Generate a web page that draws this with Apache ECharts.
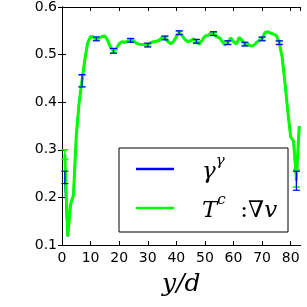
<!DOCTYPE html>
<html><head><meta charset="utf-8">
<script src="https://cdn.jsdelivr.net/npm/echarts@6/dist/echarts.min.js"></script>
<style>html,body{margin:0;padding:0;background:#fff}#c{width:307px;height:307px}</style>
</head><body><div id="c"></div>
<script>
const xs = [1,2,3,4,5,6,7,8,9,10,11,12,13,14,15,16,17,18,19,20,21,22,23,24,25,26,27,28,29,30,31,32,33,34,35,36,37,38,39,40,41,42,43,44,45,46,47,48,49,50,51,52,53,54,55,56,57,58,59,60,61,62,63,64,65,66,67,68,69,70,71,72,73,74,75,76,77,78,79,80,81,82,83];
const gammaVals = [0.242,0.118,0.185,0.205,0.33,0.40,0.445,0.49,0.525,0.538,0.537,0.533,0.535,0.538,0.539,0.530,0.515,0.508,0.512,0.523,0.527,0.526,0.528,0.530,0.529,0.524,0.522,0.521,0.522,0.520,0.525,0.527,0.528,0.530,0.536,0.535,0.528,0.523,0.527,0.538,0.546,0.540,0.532,0.527,0.529,0.533,0.528,0.522,0.530,0.539,0.540,0.545,0.544,0.538,0.536,0.528,0.520,0.525,0.535,0.527,0.522,0.536,0.530,0.522,0.522,0.518,0.519,0.525,0.530,0.533,0.546,0.548,0.545,0.543,0.540,0.525,0.495,0.44,0.38,0.327,0.318,0.235,0.35];
const tcVals = [0.29,0.118,0.185,0.205,0.33,0.40,0.445,0.49,0.525,0.538,0.537,0.533,0.535,0.538,0.539,0.530,0.515,0.508,0.512,0.523,0.527,0.526,0.528,0.530,0.529,0.524,0.522,0.521,0.522,0.520,0.525,0.527,0.528,0.530,0.536,0.535,0.528,0.523,0.527,0.538,0.546,0.540,0.532,0.527,0.529,0.533,0.528,0.522,0.530,0.539,0.540,0.545,0.544,0.538,0.536,0.528,0.520,0.525,0.535,0.527,0.522,0.536,0.530,0.522,0.522,0.518,0.519,0.525,0.530,0.533,0.546,0.548,0.545,0.543,0.540,0.525,0.495,0.44,0.38,0.327,0.318,0.24,0.35];
const errX = [1,7,12,18,24,30,36,41,47,53,58,64,70,76,82];
const gammaErr = [0.013,0.013,0.004,0.005,0.004,0.004,0.004,0.004,0.004,0.004,0.004,0.004,0.004,0.004,0.02];
const tcErr = [0.01,0.012,0.003,0.004,0.003,0.003,0.003,0.003,0.003,0.003,0.003,0.003,0.003,0.003,0.018];
const xTicks = [0,10,20,30,40,50,60,70,80];
const yTicks = [0.1,0.2,0.3,0.4,0.5,0.6];

const lineData = (vals) => xs.map((x,i)=>[x, vals[i]]);
const errData = (vals, errs) => errX.map((x,i)=>{ const v = vals[xs.indexOf(x)]; return [x, v-errs[i], v+errs[i]]; });
function errRender(color, w){
  return function(params, api){
    const lo = api.coord([api.value(0), api.value(1)]);
    const hi = api.coord([api.value(0), api.value(2)]);
    const c = 3.5;
    const st = {stroke: color, lineWidth: w};
    return {type:'group', children:[
      {type:'line', shape:{x1:lo[0],y1:lo[1],x2:hi[0],y2:hi[1]}, style:st},
      {type:'line', shape:{x1:lo[0]-c,y1:lo[1],x2:lo[0]+c,y2:lo[1]}, style:st},
      {type:'line', shape:{x1:hi[0]-c,y1:hi[1],x2:hi[0]+c,y2:hi[1]}, style:st}
    ]};
  };
}
const tickFont = {fontFamily:'DejaVu Sans', fontSize:14, color:'#000'};
const chart = echarts.init(document.getElementById('c'), null, {renderer:'canvas'});
const axisCommon = {
  axisLine:{show:true, lineStyle:{color:'#000', width:1}},
  axisTick:{show:true, inside:true, length:4, lineStyle:{color:'#000'}},
  splitLine:{show:false}
};
chart.setOption({
  animation:false,
  grid:{left:62, top:6, right:6.3, bottom:62, containLabel:false},
  xAxis:[
    Object.assign({type:'value', min:0, max:83.5, interval:10, position:'bottom',
      axisLabel:Object.assign({margin:6, showMaxLabel:false, formatter:(v)=> xTicks.includes(v)? String(v):''}, tickFont),
      name:'y/d', nameLocation:'middle', nameGap:27,
      nameTextStyle:{fontFamily:'DejaVu Serif', fontStyle:'italic', fontSize:25, color:'#000'}}, axisCommon),
    Object.assign({type:'value', min:0, max:83.5, interval:10, position:'top', axisLabel:{show:false}}, axisCommon)
  ],
  yAxis:[
    Object.assign({type:'value', min:0.1, max:0.6, interval:0.1, position:'left',
      axisLabel:Object.assign({margin:5, formatter:(v)=> v.toFixed(1)}, tickFont)}, axisCommon),
    Object.assign({type:'value', min:0.1, max:0.6, interval:0.1, position:'right', axisLabel:{show:false}}, axisCommon)
  ],
  legend:{
    orient:'vertical', left:119, top:148,
    backgroundColor:'#fff', borderColor:'#000', borderWidth:1,
    padding:[6,10,9,17],
    itemWidth:38, itemHeight:2.5, itemGap:9, icon:'rect',
    data:['gamma','tc'],
    formatter:function(name){
      if(name==='gamma') return '{s|}{i|γ}{sup|γ}';
      return '{s|}{i|T}{sup|c}{r|  :∇}{i|v}';
    },
    textStyle:{
      width:99, height:30, lineHeight:30,
      rich:{
        s:{width:23, height:30},
        i:{fontFamily:'DejaVu Serif', fontStyle:'italic', fontSize:23, lineHeight:30, color:'#000', verticalAlign:'bottom'},
        r:{fontFamily:'DejaVu Serif', fontSize:23, lineHeight:30, color:'#000', verticalAlign:'bottom'},
        sup:{fontFamily:'DejaVu Serif', fontStyle:'italic', fontSize:15, lineHeight:18, color:'#000', verticalAlign:'top'}
      }
    }
  },
  series:[
    {name:'gamma', type:'line', data:lineData(gammaVals), showSymbol:false, symbol:'none', color:'#0000ff', lineStyle:{color:'#0000ff', width:2}, z:2},
    {name:'tc', type:'line', data:lineData(tcVals), showSymbol:false, symbol:'none', color:'#00ff00', lineStyle:{color:'#00ff00', width:3}, z:3},
    {name:'tcErr', type:'custom', data:errData(tcVals, tcErr), renderItem:errRender('#00ff00',1.5), z:4},
    {name:'gammaErr', type:'custom', data:errData(gammaVals, gammaErr), renderItem:errRender('#0000ff',1.2), z:5}
  ]
});
</script></body></html>
